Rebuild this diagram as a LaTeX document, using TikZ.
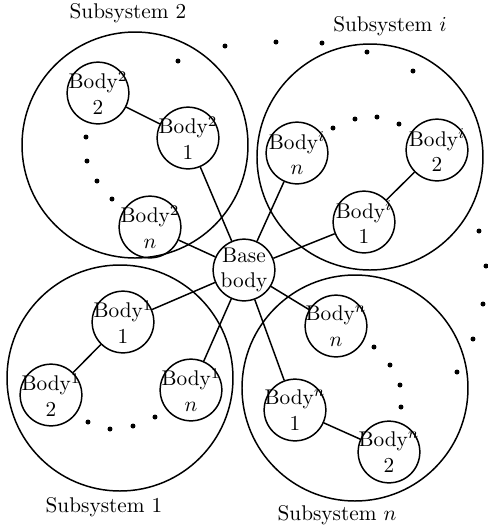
\documentclass[tikz,border=0pt]{standalone}
\usepackage{amsmath}
\usepackage{tikz}
\usetikzlibrary{shapes,positioning}

\begin{document}
\begin{tikzpicture}[x=0.47pt, y=-0.47pt, line width=0.7pt,
        every circle node/.append style={draw, inner sep=-3pt, minimum size=29pt, align=center}]
      \tikzstyle{title} = [font=\rmfamily,color=black]
      \useasboundingbox (0,0) rectangle (488,527);
      % subsystem circles
      \draw (135,145) circle (113);
      \draw (370,157) circle (113);
      \draw (120,378) circle (113);
      \draw (355,388) circle (113);
      \node (T2) [title] at (128,13) {Subsystem 2};
      \node (Ti) [title] at (390,26) {Subsystem $i$};
      \node (T1) [title] at (104,507) {Subsystem 1};
      \node (Tn) [title] at (337,515) {Subsystem $n$};
      % bodies
      \node (base) [circle] at (244,270) {Base\\body};
      \node (B22) [circle] at (98,93) {Body$^2$\\2};
      \node (B21) [circle] at (188,138) {Body$^2$\\1};
      \node (B2n) [circle] at (150,227) {Body$^2$\\$n$};
      \node (Bin) [circle] at (297,153) {Body$^i$\\$n$};
      \node (Bi2) [circle] at (437,150) {Body$^i$\\2};
      \node (Bi1) [circle] at (364,222) {Body$^i$\\1};
      \node (B11) [circle] at (123,322) {Body$^1$\\1};
      \node (B12) [circle] at (51,395) {Body$^1$\\2};
      \node (B1n) [circle] at (191,390) {Body$^1$\\$n$};
      \node (Bnn) [circle] at (336,326) {Body$^n$\\$n$};
      \node (Bn1) [circle] at (295,410) {Body$^n$\\1};
      \node (Bn2) [circle] at (389,452) {Body$^n$\\2};
      % joints
      \draw (B22) -- (B21);
      \draw (Bi1) -- (Bi2);
      \draw (B11) -- (B12);
      \draw (Bn1) -- (Bn2);
      \foreach \b in {B21,B2n,Bin,Bi1,B11,B1n,Bnn,Bn1}
        \draw (base) -- (\b);
      % dots
      \foreach \p in {(86,137),(87,161),(97,181),(112,199),(178,61),(225,46),
          (276,42),(322,43),(367,52),(413,71),(479,231),
          (333,128),(355,119),(377,117),(399,124),
          (88,422),(110,429),(133,426),(155,417),
          (374,347),(390,365),(400,385),(401,407),
          (486,266),(483,304),(473,339),(457,372)}
        \fill \p circle (2.5);
\end{tikzpicture}
\end{document}
